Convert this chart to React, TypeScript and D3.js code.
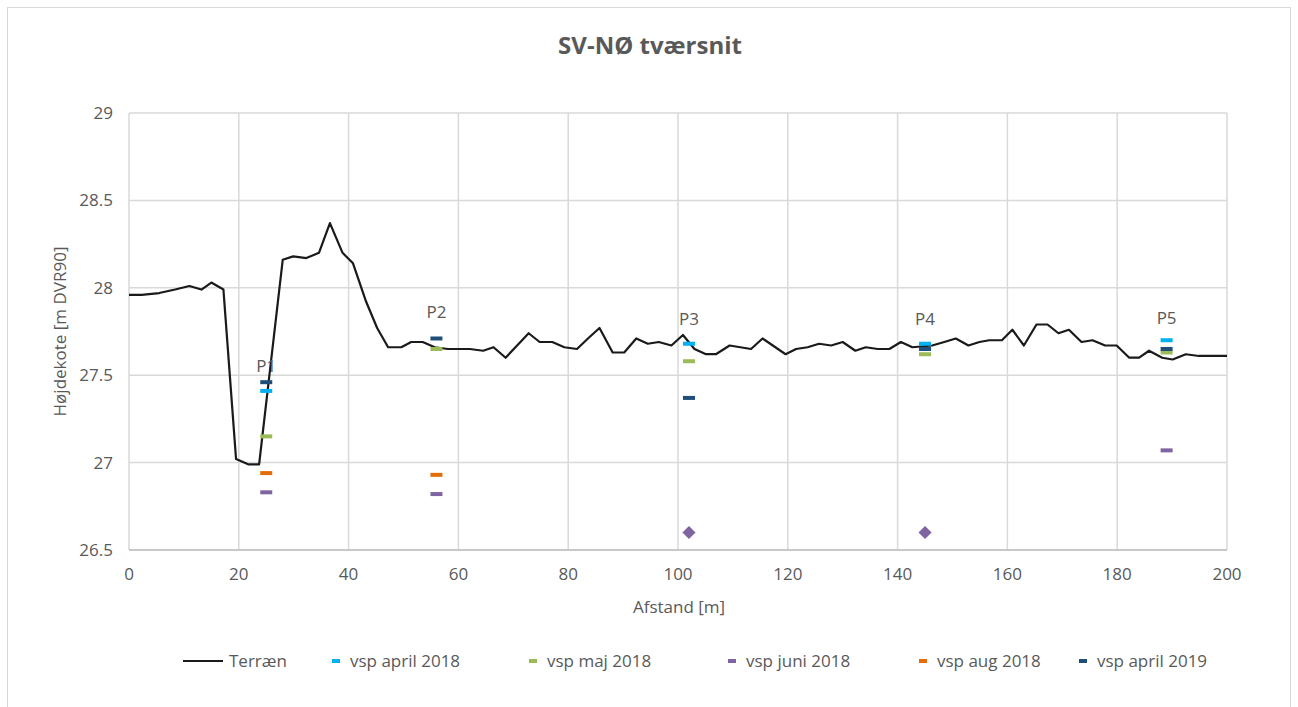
import React from "react";
import * as d3 from "d3";

const W = 1298;
const H = 707;
const MARGIN = { top: 113, right: 70, bottom: 157, left: 129 };

// terrain profile: distance [m] and elevation [m DVR90]
const terrainX = [
  0, 2.3, 5.5, 8.4, 11, 13.2, 15, 17.2, 19.5, 21.7, 23.7, 28.0, 29.9, 32.3, 34.6, 36.6, 38.9,
  40.8, 43.2, 45.2, 47.2, 49.6, 51.4, 53.5, 55.7, 58.1, 62.1, 64.5, 66.4, 68.6, 72.8, 74.8,
  77.1, 79.3, 81.6, 83.6, 85.7, 88.1, 90.2, 92.4, 94.5, 96.5, 98.8, 100.9, 103.0, 105.1,
  106.9, 109.4, 113.3, 115.4, 119.6, 121.5, 123.6, 125.7, 127.9, 130.0, 132.3, 134.2, 136.4,
  138.5, 140.6, 142.7, 146.3, 148.5, 150.6, 152.9, 154.9, 156.7, 159.0, 160.9, 163.0, 165.3,
  167.3, 169.3, 171.2, 173.5, 175.5, 177.8, 179.9, 182.2, 184.0, 185.8, 188.2, 190.1, 192.5,
  194.9, 197.0, 200,
];
const terrainY = [
  27.96, 27.96, 27.97, 27.99, 28.01, 27.99, 28.03, 27.99, 27.02, 26.99, 26.99, 28.16, 28.18,
  28.17, 28.2, 28.37, 28.2, 28.14, 27.92, 27.77, 27.66, 27.66, 27.69, 27.69, 27.66, 27.65,
  27.65, 27.64, 27.66, 27.6, 27.74, 27.69, 27.69, 27.66, 27.65, 27.71, 27.77, 27.63, 27.63,
  27.71, 27.68, 27.69, 27.67, 27.73, 27.65, 27.62, 27.62, 27.67, 27.65, 27.71, 27.62, 27.65,
  27.66, 27.68, 27.67, 27.69, 27.64, 27.66, 27.65, 27.65, 27.69, 27.66, 27.67, 27.69, 27.71,
  27.67, 27.69, 27.7, 27.7, 27.76, 27.67, 27.79, 27.79, 27.74, 27.76, 27.69, 27.7, 27.67,
  27.67, 27.6, 27.6, 27.64, 27.6, 27.59, 27.62, 27.61, 27.61, 27.61,
];

// measuring points
const wells = ["P1", "P2", "P3", "P4", "P5"];
const wellX = [25, 56, 102, 145, 189];
const wellLabelY = [27.55, 27.86, 27.82, 27.82, 27.83];

// water levels per campaign (null = no reading shown)
const april2018 = [27.41, null, 27.68, 27.68, 27.7];
const maj2018 = [27.15, 27.65, 27.58, 27.62, 27.63];
const juni2018 = [26.83, 26.82, 26.6, 26.6, 27.07];
const aug2018 = [26.94, 26.93, null, null, null];
const april2019 = [27.46, 27.71, 27.37, 27.65, 27.65];
// juni 2018 at P3 and P4 shown as diamond
const juniDiamond = [false, false, true, true, false];

const xTicks = [0, 20, 40, 60, 80, 100, 120, 140, 160, 180, 200];
const yTicks = [26.5, 27, 27.5, 28, 28.5, 29];

const FONT = "'Open Sans', 'Noto Sans', sans-serif";
const TEXT = "#595959";

const series = [
  { name: "vsp april 2018", color: "#00b0f0", values: april2018 },
  { name: "vsp maj 2018", color: "#9bbb59", values: maj2018 },
  { name: "vsp juni 2018", color: "#8064a2", values: juni2018 },
  { name: "vsp aug 2018", color: "#e46c0a", values: aug2018 },
  { name: "vsp april 2019", color: "#1f4e79", values: april2019 },
];
// draw order so dark blue/cyan sit on top like the original
const drawOrder = [2, 3, 1, 4, 0];
const legendX = [336, 533, 732, 923, 1083];

export default function App() {
  const x = d3.scaleLinear().domain([0, 200]).range([MARGIN.left, W - MARGIN.right - 1]);
  const y = d3.scaleLinear().domain([26.5, 29]).range([H - MARGIN.bottom, MARGIN.top]);

  const terrain = d3
    .line<number>()
    .x((d, i) => x(terrainX[i]))
    .y((d) => y(d));

  const diamond = d3.symbol().type(d3.symbolDiamond2).size(110)();

  return (
    <svg width={W} height={H} style={{ position: "absolute", left: 0, top: 0, background: "#fff" }}>
      <rect x={7.5} y={7.5} width={1283} height={700} fill="#fff" stroke="#d9d9d9" />
      <text x={650} y={54} textAnchor="middle" fontFamily={FONT} fontSize={24} fontWeight="bold" fill={TEXT}>
        SV-NØ tværsnit
      </text>

      {yTicks.map((t) => (
        <g key={t}>
          <line x1={x(0)} x2={x(200)} y1={y(t)} y2={y(t)} stroke="#d9d9d9" strokeWidth={1.5} />
          <text x={x(0) - 16} y={y(t) + 6} textAnchor="end" fontFamily={FONT} fontSize={17} fill={TEXT}>
            {t}
          </text>
        </g>
      ))}
      {xTicks.map((t) => (
        <g key={t}>
          <line x1={x(t)} x2={x(t)} y1={y(29)} y2={y(26.5)} stroke="#d9d9d9" strokeWidth={1.5} />
          <text x={x(t)} y={y(26.5) + 30} textAnchor="middle" fontFamily={FONT} fontSize={17} fill={TEXT}>
            {t}
          </text>
        </g>
      ))}
      <line x1={x(0)} x2={x(200)} y1={y(26.5)} y2={y(26.5)} stroke="#bfbfbf" strokeWidth={1.5} />

      <text x={679} y={613} textAnchor="middle" fontFamily={FONT} fontSize={17} fill={TEXT}>
        Afstand [m]
      </text>
      <text
        transform={`translate(66,${y(27.75)}) rotate(-90)`}
        textAnchor="middle"
        fontFamily={FONT}
        fontSize={17}
        fill={TEXT}
      >
        Højdekote [m DVR90]
      </text>

      <path d={terrain(terrainY) ?? ""} fill="none" stroke="#1a1a1a" strokeWidth={2.2} strokeLinejoin="round" />

      {drawOrder.map((si) =>
        series[si].values.map((v, i) => {
          if (v == null) return null;
          if (si === 2 && juniDiamond[i]) {
            return (
              <path key={`${si}-${i}`} d={diamond ?? ""} transform={`translate(${x(wellX[i])},${y(v)})`} fill={series[si].color} />
            );
          }
          return (
            <rect key={`${si}-${i}`} x={x(wellX[i]) - 6} y={y(v) - 2} width={12} height={4} fill={series[si].color} />
          );
        })
      )}

      {wells.map((w, i) => (
        <text key={w} x={x(wellX[i])} y={y(wellLabelY[i]) + 6} textAnchor="middle" fontFamily={FONT} fontSize={17} fill={TEXT}>
          {w}
        </text>
      ))}

      <line x1={183} x2={223} y1={661} y2={661} stroke="#1a1a1a" strokeWidth={2.2} />
      <text x={229} y={667} fontFamily={FONT} fontSize={17} fill={TEXT}>
        Terræn
      </text>
      {series.map((s, i) => (
        <g key={s.name}>
          <rect x={legendX[i] - 4} y={659} width={8} height={4} fill={s.color} />
          <text x={legendX[i] + 14} y={667} fontFamily={FONT} fontSize={17} fill={TEXT}>
            {s.name}
          </text>
        </g>
      ))}
    </svg>
  );
}
